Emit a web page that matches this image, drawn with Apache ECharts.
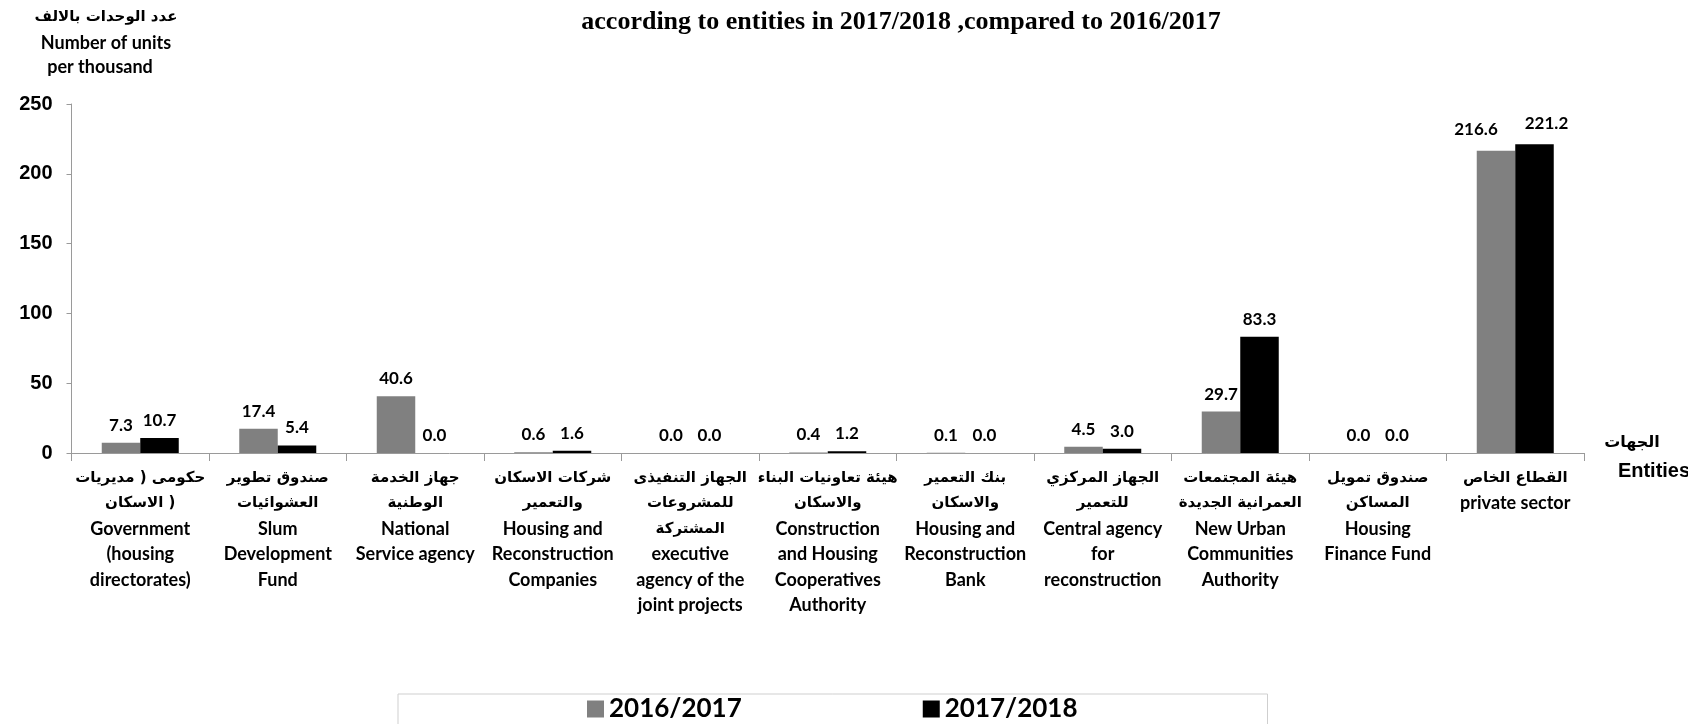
<!DOCTYPE html>
<html>
<head>
<meta charset="utf-8">
<script src="https://cdn.jsdelivr.net/npm/echarts@6/dist/echarts.min.js"></script>
<style>
html,body{margin:0;padding:0;background:#fff;}
#chart{width:1688px;height:724px;}
</style>
</head>
<body>
<div id="chart"></div>
<script>
// ---- data ----
// Arabic lines; an array inside a line means separate text pieces drawn left to right
const categoriesAr = [
  ['حكومى ( مديريات', ['الاسكان', ' \u200E)\u200E']],
  ['صندوق تطوير', 'العشوائيات'],
  ['جهاز الخدمة', 'الوطنية'],
  ['شركات الاسكان', 'والتعمير'],
  ['الجهاز التنفيذى', 'للمشروعات', 'المشتركة'],
  ['هيئة تعاونيات البناء', 'والاسكان'],
  ['بنك التعمير', 'والاسكان'],
  ['الجهاز المركزي', 'للتعمير'],
  ['هيئة المجتمعات', 'العمرانية الجديدة'],
  ['صندوق تمويل', 'المساكن'],
  ['القطاع الخاص']
];
const categoriesEn = [
  ['Government', '(housing', 'directorates)'],
  ['Slum', 'Development', 'Fund'],
  ['National', 'Service agency'],
  ['Housing and', 'Reconstruction', 'Companies'],
  ['executive', 'agency of the', 'joint projects'],
  ['Construction', 'and Housing', 'Cooperatives', 'Authority'],
  ['Housing and', 'Reconstruction', 'Bank'],
  ['Central agency', 'for', 'reconstruction'],
  ['New Urban', 'Communities', 'Authority'],
  ['Housing', 'Finance Fund'],
  ['private sector']
];
const seriesNames = ['2016/2017', '2017/2018'];
const values2016 = [7.3, 17.4, 40.6, 0.6, 0.0, 0.4, 0.1, 4.5, 29.7, 0.0, 216.6];
const values2017 = [10.7, 5.4, 0.0, 1.6, 0.0, 1.2, 0.0, 3.0, 83.3, 0.0, 221.2];
const yTicks = [0, 50, 100, 150, 200, 250];
const titleText = 'according to entities in 2017/2018 ,compared to 2016/2017';
const yAxisTitle = ['عدد الوحدات بالالف', 'Number of units', 'per thousand'];
const xAxisTitle = ['الجهات', 'Entities'];

// ---- chart ----
const categories = categoriesAr.map((a, i) => String(i));
const chart = echarts.init(document.getElementById('chart'));
const labelFont = {fontFamily: 'Lato, "DejaVu Sans", sans-serif', fontWeight: 'bold', fontSize: 17, color: '#000'};
const lastIdx = values2016.length - 1;

function makeData(vals, dx, dy) {
  return vals.map((v, i) => i === lastIdx ? {value: v, label: {offset: [dx, dy]}} : v);
}

chart.setOption({
  animation: false,
  backgroundColor: '#fff',
  grid: {left: 71.5, right: 104, top: 104, bottom: 271, containLabel: false},
  legend: {
    data: seriesNames,
    left: 398, top: 694,
    padding: [2, 190, 40, 189],
    borderColor: '#cfcfcf', borderWidth: 1,
    itemWidth: 17, itemHeight: 17, itemGap: 181,
    icon: 'rect',
    textStyle: {fontFamily: 'Lato, sans-serif', fontWeight: 'bold', fontSize: 26, color: '#000'}
  },
  xAxis: {
    type: 'category',
    data: categories,
    axisLine: {lineStyle: {color: '#9a9a9a', width: 1}},
    axisTick: {show: true, length: 8, lineStyle: {color: '#9a9a9a'}},
    axisLabel: {
      interval: 0,
      margin: 12,
      formatter: function (v) {
        const idx = Number(v);
        const lines = categoriesAr[idx].map(s => Array.isArray(s)
            ? s.map(p => '{ar|' + p + '}').join('')
            : '{ar|' + s + '}')
          .concat(categoriesEn[idx].map(s => '{en|' + s + '}'));
        return lines.join('\n');
      },
      rich: {
        ar: {fontFamily: '"DejaVu Sans", sans-serif', fontWeight: 'bold', fontSize: 15, lineHeight: 25.5, color: '#000'},
        en: {fontFamily: 'Lato, sans-serif', fontWeight: 'bold', fontSize: 18, lineHeight: 25.5, color: '#000'}
      }
    }
  },
  yAxis: {
    type: 'value',
    min: yTicks[0], max: yTicks[yTicks.length - 1], interval: 50,
    splitLine: {show: false},
    axisLine: {show: true, lineStyle: {color: '#9a9a9a'}},
    axisTick: {show: true, length: 5, lineStyle: {color: '#9a9a9a'}},
    axisLabel: {margin: 19, fontFamily: '"Liberation Sans", Arial, sans-serif', fontWeight: 'bold', fontSize: 20, color: '#000'}
  },
  series: [
    {
      name: seriesNames[0], type: 'bar', data: makeData(values2016, -20, -4),
      barWidth: '28%', barGap: '0%',
      itemStyle: {color: '#808080'},
      label: Object.assign({show: true, position: 'top', distance: 9, formatter: p => Number(p.value).toFixed(1)}, labelFont)
    },
    {
      name: seriesNames[1], type: 'bar', data: makeData(values2017, 12, -3),
      barWidth: '28%', barGap: '0%',
      itemStyle: {color: '#000000'},
      label: Object.assign({show: true, position: 'top', distance: 9, formatter: p => Number(p.value).toFixed(1)}, labelFont)
    }
  ],
  graphic: [
    {type: 'text', x: 901, y: 22, style: {text: titleText, textAlign: 'center', textVerticalAlign: 'middle', font: 'bold 26px "Liberation Serif", "Times New Roman", serif', fill: '#000'}},
    {type: 'text', x: 106, y: 17, style: {text: yAxisTitle[0], textAlign: 'center', textVerticalAlign: 'middle', font: 'bold 15px "DejaVu Sans", sans-serif', fill: '#000'}},
    {type: 'text', x: 106, y: 43, style: {text: yAxisTitle[1], textAlign: 'center', textVerticalAlign: 'middle', font: 'bold 18px Lato, sans-serif', fill: '#000'}},
    {type: 'text', x: 100, y: 67, style: {text: yAxisTitle[2], textAlign: 'center', textVerticalAlign: 'middle', font: 'bold 18px Lato, sans-serif', fill: '#000'}},
    {type: 'text', x: 1632, y: 443, style: {text: xAxisTitle[0], textAlign: 'center', textVerticalAlign: 'middle', font: 'bold 16px "DejaVu Sans", sans-serif', fill: '#000'}},
    {type: 'text', x: 1654, y: 471, style: {text: xAxisTitle[1], textAlign: 'center', textVerticalAlign: 'middle', font: 'bold 20px "Liberation Sans", Arial, sans-serif', fill: '#000'}}
  ]
});
</script>
</body>
</html>
